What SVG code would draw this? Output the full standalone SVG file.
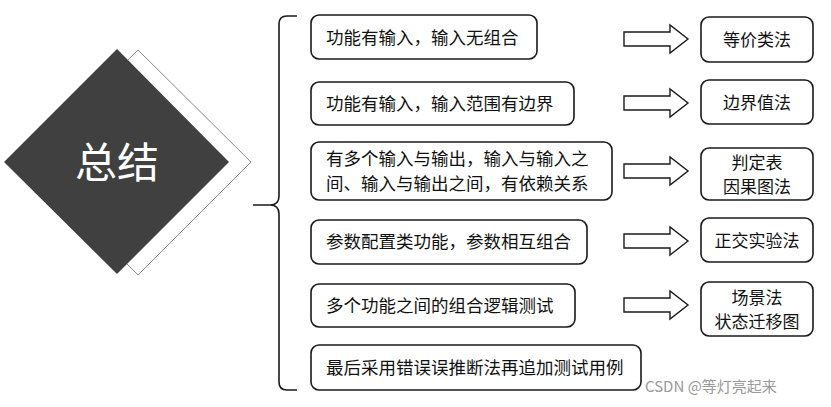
<svg xmlns="http://www.w3.org/2000/svg" width="831" height="407" viewBox="0 0 831 407">
<style>
.b{fill:#fff;stroke:#1a1a1a;stroke-width:1.6}
.t{font-family:"Noto Sans CJK SC","Noto Sans",sans-serif;font-size:17.5px;fill:#111}
.r{font-family:"Noto Sans CJK SC","Noto Sans",sans-serif;font-size:17px;fill:#111;text-anchor:middle}
.a{fill:#fff;stroke:#1a1a1a;stroke-width:1.4}
</style>
<rect width="831" height="407" fill="#fff"/>
<g id="center">
<polygon points="138,50 251,162 138,275 25,162" fill="#fff" stroke="#888" stroke-width="1"/>
<polygon points="117,49 229,162 117,274 4,162" fill="#404040"/>
<text x="117" y="178" text-anchor="middle" font-family="Noto Sans CJK SC,sans-serif" font-size="42" fill="#fff">总结</text>
</g>
<g id="connectors">
<path d="M297,16 H287 Q279,16 279,24 V196 Q279,205 270,205 H253 M270,205 Q279,205 279,214 V382 Q279,390 287,390 H297" fill="none" stroke="#1a1a1a" stroke-width="1.6"/>
<g id="arrows">
<polygon class="a" points="624,32 670,32 670,25 688,39 670,53 670,46 624,46"/>
<polygon class="a" points="624,96 670,96 670,89 688,103 670,117 670,110 624,110"/>
<polygon class="a" points="624,164 670,164 670,157 688,171 670,185 670,178 624,178"/>
<polygon class="a" points="624,234 670,234 670,227 688,241 670,255 670,248 624,248"/>
<polygon class="a" points="624,298 670,298 670,291 688,305 670,319 670,312 624,312"/>
</g>
</g>
<g id="n1"><rect class="b" x="311" y="15" width="226" height="44" rx="8"/><text class="t" x="326" y="44">功能有输入，输入无组合</text></g>
<g id="n2"><rect class="b" x="311" y="82" width="263" height="43" rx="8"/><text class="t" x="326" y="110">功能有输入，输入范围有边界</text></g>
<g id="n3"><rect class="b" x="311" y="142" width="301" height="58" rx="8"/><text class="t" x="326" y="165">有多个输入与输出，输入与输入之</text><text class="t" x="326" y="190">间、输入与输出之间，有依赖关系</text></g>
<g id="n4"><rect class="b" x="311" y="220" width="276" height="44" rx="8"/><text class="t" x="326" y="248">参数配置类功能，参数相互组合</text></g>
<g id="n5"><rect class="b" x="311" y="284" width="264" height="43" rx="8"/><text class="t" x="326" y="312">多个功能之间的组合逻辑测试</text></g>
<g id="n6"><rect class="b" x="311" y="345" width="330" height="45" rx="8"/><text class="t" x="326" y="374">最后采用错误误推断法再追加测试用例</text></g>
<g id="r1"><rect class="b" x="701" y="17" width="112" height="45" rx="8"/><text class="r" x="757" y="46">等价类法</text></g>
<g id="r2"><rect class="b" x="701" y="80" width="112" height="44" rx="8"/><text class="r" x="757" y="109">边界值法</text></g>
<g id="r3"><rect class="b" x="701" y="148" width="112" height="52" rx="8"/><text class="r" x="757" y="169">判定表</text><text class="r" x="757" y="193">因果图法</text></g>
<g id="r4"><rect class="b" x="701" y="218" width="112" height="44" rx="8"/><text class="r" x="757" y="247">正交实验法</text></g>
<g id="r5"><rect class="b" x="701" y="282" width="112" height="54" rx="8"/><text class="r" x="757" y="304">场景法</text><text class="r" x="757" y="328">状态迁移图</text></g>
<text x="645" y="392" font-family="Noto Sans CJK SC,sans-serif" font-size="15" fill="#999">CSDN @等灯亮起来</text>
</svg>
